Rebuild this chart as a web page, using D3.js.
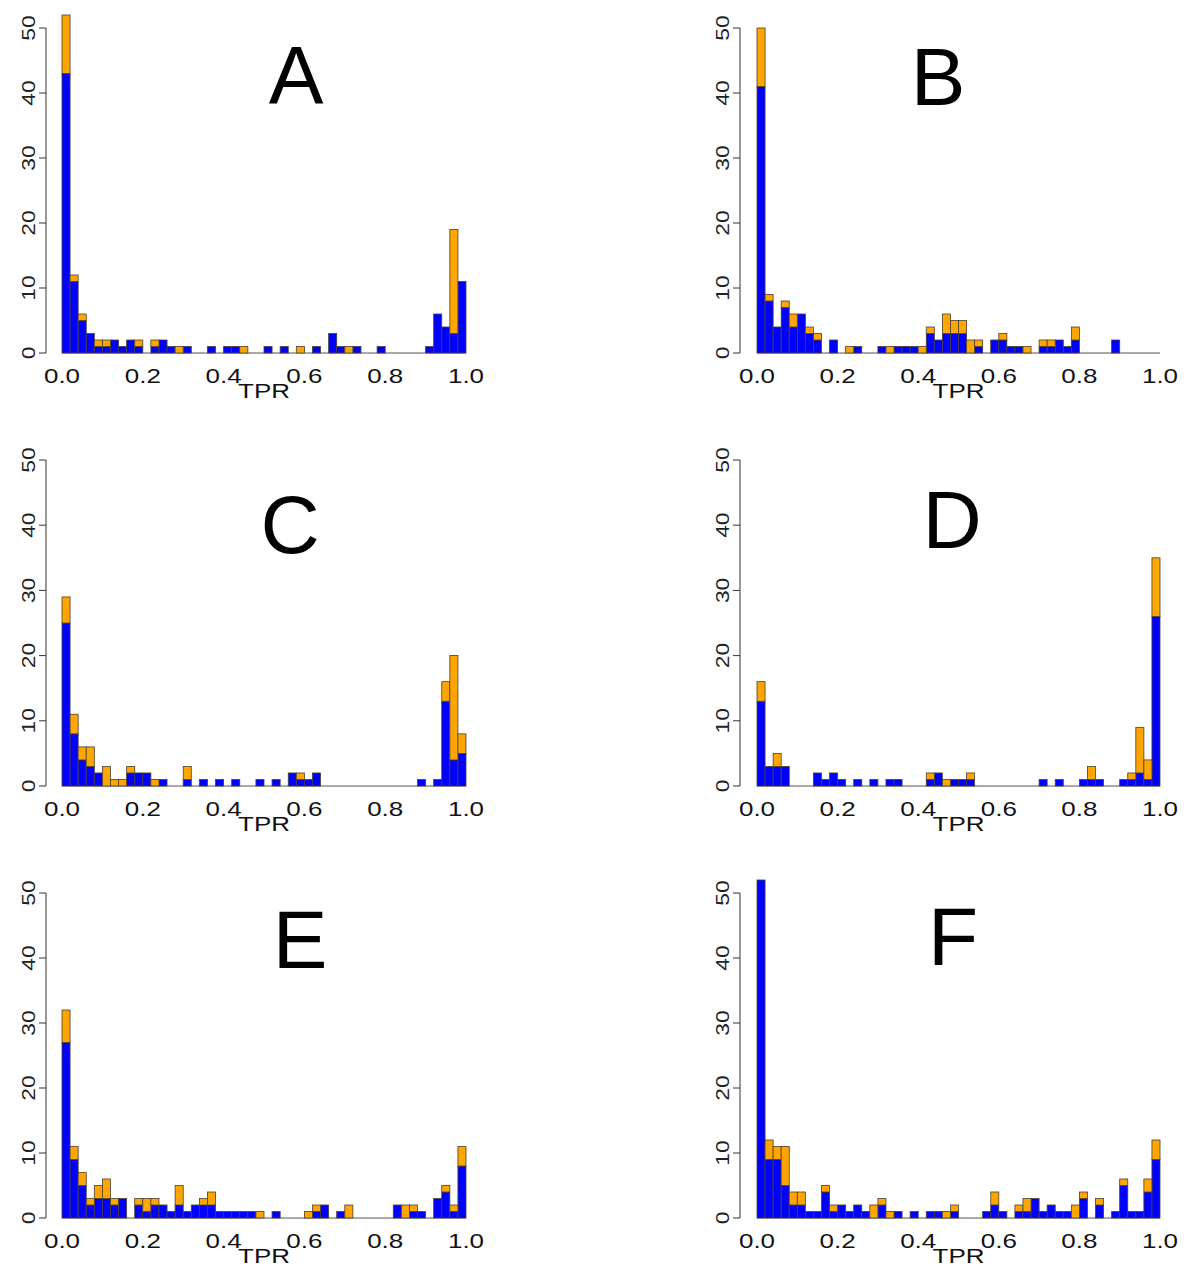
<!DOCTYPE html>
<html><head><meta charset="utf-8">
<script src="https://cdn.jsdelivr.net/npm/d3@7"></script>
<style>body{margin:0;background:#fff}</style>
</head><body>
<svg id="c" width="1200" height="1279"></svg>
<script>
const panelLabels = ["A","B","C","D","E","F"];
const yTicks = [0,10,20,30,40,50];
const xTicks = [0,0.2,0.4,0.6,0.8,1.0];
const xTickLabels = ["0.0","0.2","0.4","0.6","0.8","1.0"];
const xTitle = "TPR";
const nBins = 50;

const blueA = [43,11,5,3,1,1,2,1,2,1,0,1,2,1,0,1,0,0,1,0,1,1,0,0,0,1,0,1,0,0,0,1,0,3,1,0,1,0,0,1,0,0,0,0,0,1,6,4,3,11];
const orangeA = [9,1,1,0,1,1,0,0,0,1,0,1,0,0,1,0,0,0,0,0,0,0,1,0,0,0,0,0,0,1,0,0,0,0,0,1,0,0,0,0,0,0,0,0,0,0,0,0,16,0];
const blueB = [41,8,4,7,4,6,3,2,0,2,0,0,1,0,0,1,0,1,1,1,0,3,2,3,3,3,0,1,0,2,2,1,1,0,0,1,1,2,1,2,0,0,0,0,2,0,0,0,0,0];
const orangeB = [9,1,0,1,2,0,1,1,0,0,0,1,0,0,0,0,1,0,0,0,1,1,0,3,2,2,2,1,0,0,1,0,0,1,0,1,1,0,0,2,0,0,0,0,0,0,0,0,0,0];
const blueC = [25,8,4,3,2,0,0,0,2,2,2,0,1,0,0,1,0,1,0,1,0,1,0,0,1,0,1,0,2,1,1,2,0,0,0,0,0,0,0,0,0,0,0,0,1,0,1,13,4,5];
const orangeC = [4,3,2,3,0,3,1,1,1,0,0,1,0,0,0,2,0,0,0,0,0,0,0,0,0,0,0,0,0,1,0,0,0,0,0,0,0,0,0,0,0,0,0,0,0,0,0,3,16,3];
const blueD = [13,3,3,3,0,0,0,2,1,2,1,0,1,0,1,0,1,1,0,0,0,1,2,0,1,1,1,0,0,0,0,0,0,0,0,1,0,1,0,0,1,1,1,0,0,1,1,2,1,26];
const orangeD = [3,0,2,0,0,0,0,0,0,0,0,0,0,0,0,0,0,0,0,0,0,1,0,1,0,0,1,0,0,0,0,0,0,0,0,0,0,0,0,0,0,2,0,0,0,0,1,7,3,9];
const blueE = [27,9,5,2,3,3,2,3,0,2,1,2,2,1,2,1,2,2,2,1,1,1,1,1,0,0,1,0,0,0,0,1,2,0,1,0,0,0,0,0,0,2,0,1,1,0,3,4,1,8];
const orangeE = [5,2,2,1,2,3,1,0,0,1,2,1,0,0,3,0,0,1,2,0,0,0,0,0,1,0,0,0,0,0,1,1,0,0,0,2,0,0,0,0,0,0,2,1,0,0,0,1,1,3];
const blueF = [52,9,9,5,2,2,1,1,4,1,2,1,2,1,0,2,0,1,0,1,0,1,1,0,1,0,0,0,1,2,1,0,1,1,3,1,2,1,1,0,3,0,2,0,1,5,1,1,4,9];
const orangeF = [0,3,2,6,2,2,0,0,1,1,0,0,0,0,2,1,1,0,0,0,0,0,0,1,1,0,0,0,0,2,0,0,1,2,0,0,0,0,0,2,1,0,1,0,0,1,0,0,2,3];

const blues = [blueA,blueB,blueC,blueD,blueE,blueF];
const oranges = [orangeA,orangeB,orangeC,orangeD,orangeE,orangeF];

const svg = d3.select("#c");
const colX = [[62,466],[757,1160]];
const axisX = [46,740];
const rowY = [[353,28],[786,460],[1218,893]];
const letterPos = [[296,103],[938,105],[290,553],[952,548],[300,968],[953,965]];

const FONT = "'Liberation Sans', Arial, Helvetica, sans-serif";

for (let p=0;p<6;p++){
  const col = p%2, row = Math.floor(p/2);
  const x = d3.scaleLinear().domain([0,1]).range(colX[col]);
  const y = d3.scaleLinear().domain([0,50]).range(rowY[row]);
  const g = svg.append("g");
  const bw = 1/nBins;
  const data = blues[p].map((b,i)=>({x0:i*bw,x1:(i+1)*bw,b:b,o:oranges[p][i]}));

  g.append("line").attr("x1",x(0)).attr("x2",x(1)).attr("y1",y(0)).attr("y2",y(0))
    .attr("stroke","#555").attr("stroke-width",1);

  g.selectAll("rect.b").data(data.filter(d=>d.b>0)).join("rect")
    .attr("x",d=>x(d.x0)).attr("width",d=>x(d.x1)-x(d.x0))
    .attr("y",d=>y(d.b)).attr("height",d=>y(0)-y(d.b))
    .attr("fill","#0000ff").attr("stroke","#4a4030").attr("stroke-width",0.8);
  g.selectAll("rect.o").data(data.filter(d=>d.o>0)).join("rect")
    .attr("x",d=>x(d.x0)).attr("width",d=>x(d.x1)-x(d.x0))
    .attr("y",d=>y(d.b+d.o)).attr("height",d=>y(d.b)-y(d.b+d.o))
    .attr("fill","#ffa500").attr("stroke","#4a4030").attr("stroke-width",0.8);

  const ya = g.append("g").attr("transform",`translate(${axisX[col]},0)`);
  ya.append("line").attr("x1",0).attr("x2",0).attr("y1",y(0)).attr("y2",y(50)).attr("stroke","#333");
  yTicks.forEach(t=>{
    ya.append("line").attr("x1",-7).attr("x2",0).attr("y1",y(t)).attr("y2",y(t)).attr("stroke","#333");
    ya.append("text").attr("transform",`translate(-11,${y(t)}) rotate(-90) scale(1.2,1)`)
      .attr("text-anchor","middle").attr("font-family",FONT).attr("font-size",19).attr("fill","#222").text(t);
  });

  xTicks.forEach((t,i)=>{
    g.append("text").attr("transform",`translate(${x(t)},${y(0)+30}) scale(1.3,1)`)
      .attr("text-anchor","middle").attr("font-family",FONT).attr("font-size",20).attr("fill","#111").text(xTickLabels[i]);
  });
  g.append("text").attr("transform",`translate(${(x(0)+x(1))/2},${y(0)+45}) scale(1.3,1)`)
    .attr("text-anchor","middle").attr("font-family",FONT).attr("font-size",20).attr("fill","#111").text(xTitle);

  svg.append("text").attr("x",letterPos[p][0]).attr("y",letterPos[p][1]).attr("text-anchor","middle")
    .attr("font-family",FONT).attr("font-size",82).attr("fill","#000").text(panelLabels[p]);
}
</script>
</body></html>
